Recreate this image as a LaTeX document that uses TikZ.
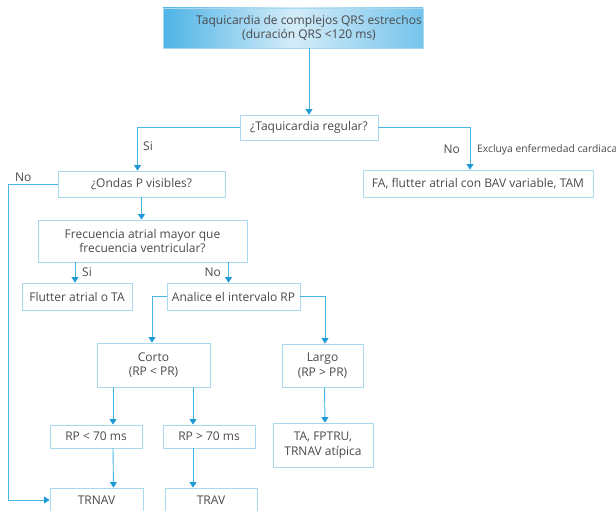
\documentclass[tikz,border=0pt]{standalone}
\usepackage{fontspec}
\setmainfont{Open Sans}
\usetikzlibrary{arrows.meta}
\definecolor{boxc}{HTML}{A9D9EE}
\definecolor{linec}{HTML}{45B5E5}
\definecolor{tipc}{HTML}{1C9AD6}
\definecolor{txtc}{HTML}{4A4A4A}
\definecolor{tdark}{HTML}{4DB3E6}
\definecolor{tlight}{HTML}{D4ECF9}
\begin{document}
\begin{tikzpicture}[x=1pt,y=-1pt,
  box/.style={draw=boxc, line width=0.9pt, inner sep=0pt, align=center,
    font=\fontsize{12}{14.5}\selectfont, text=txtc},
  conn/.style={draw=linec, line width=0.9pt, -{Triangle[width=7pt,length=5.5pt,color=tipc]}},
  lbl/.style={font=\fontsize{12}{14}\selectfont, text=txtc, inner sep=0pt},
  small/.style={font=\fontsize{10.3}{12}\selectfont, text=txtc, inner sep=0pt}]
\useasboundingbox (0,0) rectangle (616,511);
\clip (0,0) rectangle (616,511);
\fill[white] (0,0) rectangle (616,511);

% title box
\node[draw=boxc, line width=0.6pt, minimum width=260pt, minimum height=40pt, inner sep=0pt,
  left color=tdark, right color=tdark!70!tlight, middle color=tlight] (title) at (293,28) {};
\node[lbl, align=center, font=\fontsize{12}{14}\selectfont] (titletxt) at (309,28)
  {Taquicardia de complejos QRS estrechos\\(duración QRS <120 ms)};

\node[box, minimum width=138pt, minimum height=25pt] (reg) at (309,127.5) {¿Taquicardia regular?};
\node[box, minimum width=230pt, minimum height=27pt] (fa) at (478,183.5) {FA, flutter atrial con BAV variable, TAM};
\node[box, minimum width=167pt, minimum height=26pt] (ondas) at (141.5,184) {¿Ondas P visibles?};
\node[box, minimum width=209pt, minimum height=42pt] (freq) at (142.5,241) {Frecuencia atrial mayor que\\frecuencia ventricular?};
\node[box, minimum width=110pt, minimum height=27pt] (flutter) at (77,296.5) {Flutter atrial o TA};
\node[box, minimum width=133pt, minimum height=27pt] (analice) at (233.5,296.5) {Analice el intervalo RP};
\node[box, minimum width=113pt, minimum height=44pt] (corto) at (153.5,365) {Corto\\(RP < PR)};
\node[box, minimum width=81pt, minimum height=43pt] (largo) at (322.5,365.5) {Largo\\(RP > PR)};
\node[box, minimum width=92pt, minimum height=23pt] (rp1) at (96,436.5) {RP < 70 ms};
\node[box, minimum width=92pt, minimum height=23pt] (rp2) at (209,436.5) {RP > 70 ms};
\node[box, minimum width=100pt, minimum height=44pt] (ta) at (323,445) {TA, FPTRU,\\TRNAV atípica};
\node[box, minimum width=93pt, minimum height=24pt] (trnav) at (96.5,500) {TRNAV};
\node[box, minimum width=92pt, minimum height=24pt] (trav) at (211,500) {TRAV};

\coordinate (lft) at (8,0);

% connectors
\draw[conn] (reg.north |- title.south) -- (reg.north);
\draw[conn] (reg.west) -| ([xshift=-4]ondas.north);
\draw[conn] (reg.east) -| ([xshift=-8]fa.north);
\draw[conn] (ondas.west) -| (lft |- trnav.west) -- (trnav.west);
\draw[conn] (ondas.south) -- (ondas.south |- freq.north);
\draw[conn] ([xshift=-2]flutter.north |- freq.south) -- ([xshift=-2]flutter.north);
\draw[conn] ([xshift=-5]analice.north |- freq.south) -- ([xshift=-5]analice.north);
\draw[conn] (analice.west) -| ([xshift=-1.5]corto.north);
\draw[conn] (analice.east) -| ([xshift=2.5]largo.north);
\draw[conn] ([xshift=17]rp1.north |- corto.south) -- ([xshift=17]rp1.north);
\draw[conn] ([xshift=-16]rp2.north |- corto.south) -- ([xshift=-16]rp2.north);
\draw[conn] ([xshift=17]rp1.south) -- ([xshift=17]trnav.north);
\draw[conn] ([xshift=-16]rp2.south) -- ([xshift=-18]trav.north);
\draw[conn] ([xshift=2]largo.south) -- ([xshift=2]ta.north);

% labels
\node[lbl, anchor=west] (si1) at (143,146) {Si};
\node[lbl, anchor=east] (no1) at (460,149) {No};
\node[small, anchor=west] (excl) at (477,149.5) {Excluya enfermedad cardiaca};
\node[lbl, anchor=west] (no2) at (15,177) {No};
\node[lbl, anchor=west] (si2) at (82,272) {Si};
\node[lbl, anchor=east] (no3) at (221,272) {No};
\end{tikzpicture}
\end{document}
